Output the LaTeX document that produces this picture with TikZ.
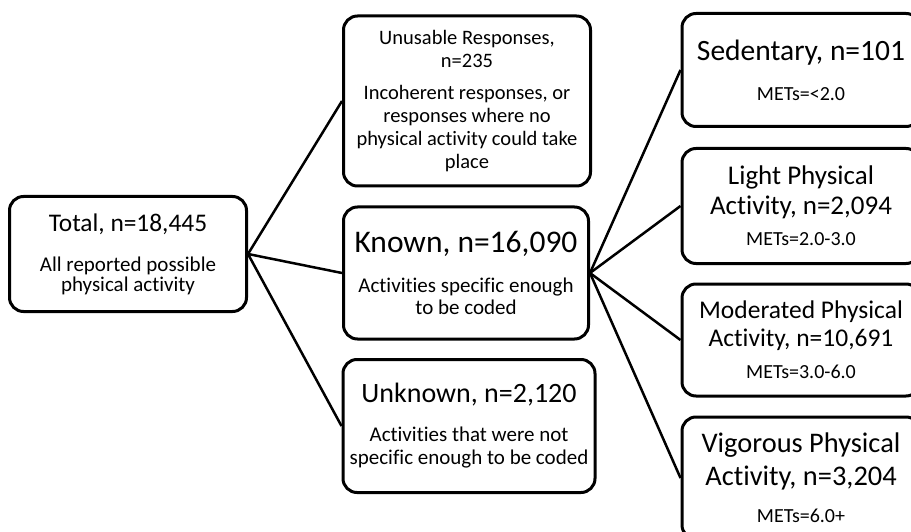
\documentclass[tikz,border=0pt]{standalone}
\usepackage{fontspec}
\setmainfont{Carlito}[Ligatures={NoCommon}]
\begin{document}
\begin{tikzpicture}[x=1pt, y=-1pt,
        box/.style={draw, line width=3pt, rounded corners=14pt, inner sep=0pt},
        link/.style={line width=2.5pt}]
            \useasboundingbox (0,0) rectangle (911,532);
            \clip (0,0) rectangle (911,532);
            % Left column
            \node[box, minimum width=237pt, minimum height=115pt] (total) at (128,254)
                {\parbox{230pt}{\centering
                 \fontsize{25.4}{30}\selectfont Total, n=18,445\\[20pt]
                 \fontsize{21}{20}\selectfont All reported possible\\physical activity}};
            % Middle column
            \node[box, minimum width=247pt, minimum height=170pt] (unusable) at (467,101)
                {\parbox{240pt}{\centering
                 \fontsize{20.5}{23}\selectfont Unusable Responses,\\n=235\\[9pt]
                 Incoherent responses, or\\responses where no\\physical activity could take\\place}};
            \node[box, minimum width=245pt, minimum height=132pt] (known) at (466,273)
                {\parbox{238pt}{\centering
                 \fontsize{31.5}{34}\selectfont Known, n=16,090\\[18pt]
                 \fontsize{21}{22}\selectfont Activities specific enough\\to be coded}};
            \node[box, minimum width=252pt, minimum height=133pt] (unknown) at (469,426)
                {\parbox{245pt}{\centering
                 \fontsize{28}{32}\selectfont Unknown, n=2,120\\[16pt]
                 \fontsize{21}{23}\selectfont Activities that were not\\specific enough to be coded}};
            % Right column
            \node[box, minimum width=238pt, minimum height=113pt] (sedentary) at (801,70)
                {\parbox{230pt}{\centering
                 \fontsize{29.5}{32}\selectfont Sedentary, n=101\\[16pt]
                 \fontsize{20}{24}\selectfont METs=<2.0}};
            \node[box, minimum width=238pt, minimum height=115pt] (light) at (801,206)
                {\parbox{230pt}{\centering
                 \fontsize{27}{30}\selectfont Light Physical\\Activity, n=2,094\\[7pt]
                 \fontsize{20}{24}\selectfont METs=2.0-3.0}};
            \node[box, minimum width=238pt, minimum height=112pt] (moderated) at (801,340)
                {\parbox{230pt}{\centering
                 \fontsize{25.5}{28}\selectfont Moderated Physical\\Activity, n=10,691\\[8pt]
                 \fontsize{20}{24}\selectfont METs=3.0-6.0}};
            \node[box, minimum width=238pt, minimum height=122pt] (vigorous) at (801,478)
                {\parbox{230pt}{\centering
                 \fontsize{28.4}{33}\selectfont Vigorous Physical\\Activity, n=3,204\\[13pt]
                 \fontsize{20}{24}\selectfont METs=6.0+}};
            % Connectors
            \draw[link] (total.east) -- (unusable.west);
            \draw[link] (total.east) -- (known.west);
            \draw[link] (total.east) -- (unknown.west);
            \draw[link] (known.east) -- (sedentary.west);
            \draw[link] (known.east) -- (light.west);
            \draw[link] (known.east) -- (moderated.west);
            \draw[link] (known.east) -- (vigorous.west);
        \end{tikzpicture}
\end{document}
